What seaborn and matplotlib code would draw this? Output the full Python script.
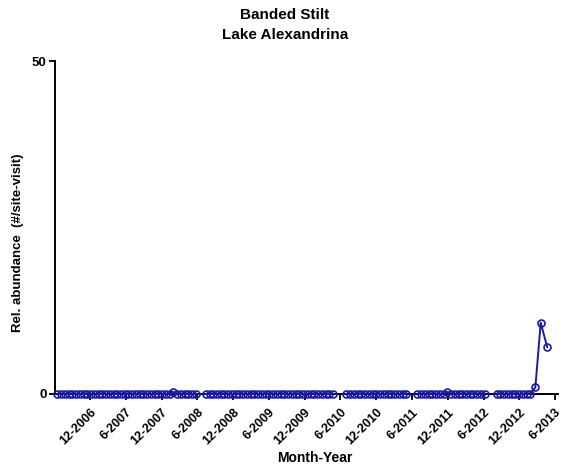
import numpy as np
import pandas as pd
import matplotlib
matplotlib.use("Agg")
import matplotlib.pyplot as plt
import seaborn as sns

# ---- data (x in months relative to Dec-2006) ----
survey_step = 0.628  # months between successive surveys

seg1_start = -5.5
seg1_values = [0, 0, 0, 0, 0, 0, 0, 0, 0, 0, 0, 0, 0, 0, 0, 0, 0, 0, 0, 0,
               0, 0, 0, 0, 0, 0, 0, 0, 0, 0, 0, 0.3, 0, 0, 0, 0, 0, 0]
seg2_start = 19.4
seg2_values = [0, 0, 0, 0, 0, 0, 0, 0, 0, 0, 0, 0, 0, 0, 0, 0, 0, 0,
               0, 0, 0, 0, 0, 0, 0, 0, 0, 0, 0, 0, 0, 0, 0, 0, 0]
seg3_start = 43.0
seg3_values = [0, 0, 0, 0, 0, 0, 0, 0, 0, 0, 0, 0, 0, 0, 0, 0, 0]
seg4_start = 54.9
seg4_values = [0, 0, 0, 0, 0, 0, 0, 0, 0.3, 0, 0, 0, 0, 0, 0, 0, 0, 0, 0]
seg5_start = 68.2
seg5_values = [0, 0, 0, 0, 0, 0, 0, 0, 0, 0]
tail_months = [74.7, 75.6, 76.7]
tail_values = [1.0, 10.7, 7.0]

tick_labels = ["12-2006", "6-2007", "12-2007", "6-2008", "12-2008", "6-2009",
               "12-2009", "6-2010", "12-2010", "6-2011", "12-2011", "6-2012",
               "12-2012", "6-2013"]
tick_months = [0, 6, 12, 18, 24, 30, 36, 42, 48, 54, 60, 66, 72, 78]

# ---- build table ----
rows = []
segs = [(seg1_start, seg1_values), (seg2_start, seg2_values),
        (seg3_start, seg3_values), (seg4_start, seg4_values),
        (seg5_start, seg5_values)]
for k, (st, vals) in enumerate(segs):
    for i, v in enumerate(vals):
        rows.append({"month": st + i * survey_step, "value": v, "seg": k})
for m, v in zip(tail_months, tail_values):
    rows.append({"month": m, "value": v, "seg": len(segs) - 1})
df = pd.DataFrame(rows)

# ---- plot ----
sns.set_style("ticks")
plt.rcParams["font.family"] = ["Liberation Sans", "DejaVu Sans"]
plt.rcParams["text.color"] = "black"
plt.rcParams["xtick.color"] = "black"
plt.rcParams["ytick.color"] = "black"

fig = plt.figure(figsize=(5.66, 4.68), dpi=100)
ax = fig.add_axes([55 / 566, 1 - 394 / 468, 503 / 566, 333 / 468])

color = "#1a1aa0"
sns.lineplot(data=df, x="month", y="value", units="seg", estimator=None,
             color=color, lw=1.4, marker="o", markersize=5.0,
             markerfacecolor="none", markeredgecolor=color,
             markeredgewidth=1.2, ax=ax, clip_on=False, zorder=3)

ax.set_xlim(-5.9, 78.5)
ax.set_ylim(0, 50)
ax.set_yticks([0, 50])
ax.set_yticklabels(["0", "50"], fontsize=9.5, fontweight="bold")
ax.set_xticks(tick_months)
ax.set_xticklabels(tick_labels, rotation=45, ha="right", va="top",
                   rotation_mode="anchor", fontsize=9, fontweight="bold")
ax.tick_params(axis="both", direction="out", length=4, width=1.3,
               color="black", pad=2)
ax.tick_params(axis="x", pad=5)
for sp in ["top", "right"]:
    ax.spines[sp].set_visible(False)
for sp in ["left", "bottom"]:
    ax.spines[sp].set_linewidth(1.4)
    ax.spines[sp].set_color("black")
ax.set_xlabel("")
ax.set_ylabel("")

fig.text(0.503, 1 - 15 / 468, "Banded Stilt", ha="center", va="center",
         fontsize=11, fontweight="bold")
fig.text(0.503, 1 - 35 / 468, "Lake Alexandrina", ha="center", va="center",
         fontsize=11, fontweight="bold")
fig.text(315 / 566, 1 - 458 / 468, "Month-Year", ha="center", va="center",
         fontsize=10, fontweight="bold")
fig.text(18 / 566, 1 - 243 / 468, "Rel. abundance  (#/site-visit)",
         ha="center", va="center", rotation=90, fontsize=9.5,
         fontweight="bold")

fig.savefig("out.png", dpi=100)
